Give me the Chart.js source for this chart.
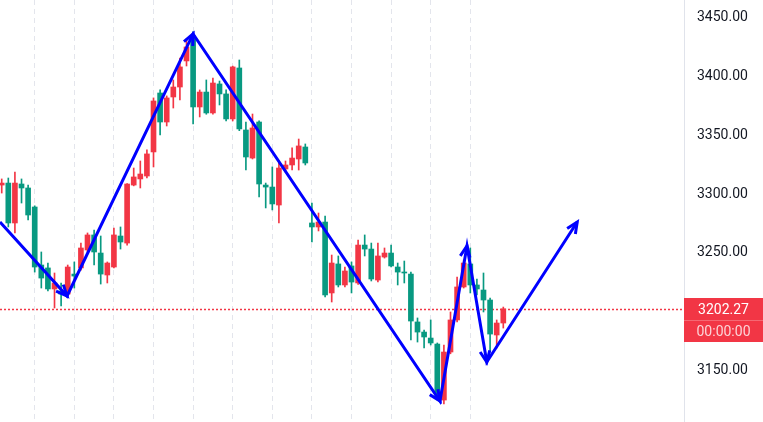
<!DOCTYPE html>
<html>
<head>
<meta charset="utf-8">
<script src="https://cdn.jsdelivr.net/npm/chart.js@4.4.1/dist/chart.umd.min.js"></script>
<style>
html, body { margin: 0; padding: 0; background: #ffffff; }
</style>
</head>
<body>
<canvas id="chart" width="763" height="422"></canvas>
<script>
// Velas (una por periodo)
const opens = [
  3307.7, 3309.4, 3275.4, 3308.6, 3305.2, 3289.0, 3239.6, 3237.1, 3219.2, 3217.5,
  3214.9, 3231.9, 3237.1, 3252.4, 3265.2, 3249.8, 3231.1, 3237.9, 3264.3, 3258.3,
  3307.7, 3312.9, 3315.4, 3335.9, 3386.1, 3361.4, 3382.7, 3391.2, 3413.4, 3434.7,
  3374.2, 3386.9, 3369.1, 3393.8, 3385.3, 3364.0, 3407.4, 3354.6, 3330.7, 3361.4,
  3307.7, 3306.0, 3290.7, 3321.4, 3324.8, 3329.9, 3340.1, 3275.4, 3272.0, 3276.2,
  3215.8, 3240.5, 3222.6, 3238.8, 3224.3, 3256.6, 3253.2, 3226.8, 3246.4, 3249.8,
  3237.9, 3233.6, 3231.9, 3191.1, 3182.5, 3177.4, 3172.3, 3124.6, 3165.5, 3192.8,
  3220.9, 3240.5, 3222.6, 3218.3, 3209.8, 3180.0, 3190.2
];
const highs = [
  3312.9, 3313.7, 3318.8, 3312.9, 3307.7, 3290.0, 3250.7, 3241.3, 3232.8, 3224.3,
  3239.6, 3242.2, 3258.3, 3266.9, 3269.4, 3264.3, 3242.2, 3271.1, 3272.0, 3309.0,
  3322.2, 3328.2, 3337.6, 3381.9, 3388.7, 3383.6, 3397.2, 3415.9, 3432.1, 3438.1,
  3388.7, 3397.2, 3398.9, 3396.3, 3388.7, 3409.0, 3414.2, 3361.4, 3368.2, 3362.3,
  3309.4, 3323.1, 3327.3, 3328.2, 3339.3, 3346.9, 3342.7, 3292.4, 3283.9, 3281.3,
  3248.1, 3247.3, 3237.9, 3242.2, 3260.9, 3265.2, 3258.3, 3258.3, 3254.1, 3256.6,
  3241.3, 3243.0, 3233.6, 3194.5, 3184.2, 3192.8, 3173.2, 3171.5, 3199.6, 3229.4,
  3243.9, 3254.1, 3227.7, 3232.8, 3211.5, 3192.8, 3203.8
];
const lows = [
  3300.9, 3272.0, 3266.9, 3292.4, 3277.9, 3233.6, 3220.0, 3217.5, 3203.0, 3204.7,
  3214.1, 3220.0, 3235.3, 3250.7, 3239.6, 3223.4, 3224.3, 3237.1, 3253.2, 3256.6,
  3307.0, 3305.2, 3313.7, 3323.1, 3350.3, 3358.0, 3373.3, 3380.1, 3409.1, 3359.7,
  3365.7, 3368.0, 3368.0, 3375.9, 3362.3, 3362.3, 3354.0, 3320.5, 3329.9, 3297.5,
  3288.2, 3286.5, 3275.4, 3318.8, 3320.5, 3320.5, 3324.8, 3259.2, 3268.6, 3212.4,
  3208.1, 3220.9, 3220.9, 3215.8, 3223.0, 3247.3, 3226.0, 3225.1, 3245.5, 3237.9,
  3222.6, 3224.3, 3175.7, 3174.0, 3168.9, 3171.5, 3124.6, 3121.2, 3164.0, 3191.1,
  3220.0, 3215.8, 3214.1, 3199.6, 3165.5, 3168.9, 3185.9
];
const closes = [
  3309.4, 3275.4, 3309.4, 3305.2, 3282.2, 3237.9, 3228.5, 3219.2, 3224.3, 3214.9,
  3237.9, 3230.2, 3254.1, 3265.2, 3250.7, 3231.9, 3241.3, 3265.2, 3259.2, 3308.6,
  3314.6, 3317.1, 3334.2, 3379.3, 3361.4, 3381.9, 3391.2, 3408.3, 3425.3, 3374.2,
  3386.9, 3369.1, 3394.6, 3385.3, 3364.0, 3408.3, 3355.5, 3331.6, 3356.3, 3308.6,
  3306.0, 3291.6, 3322.2, 3324.8, 3330.7, 3341.0, 3326.5, 3272.0, 3276.2, 3214.1,
  3241.3, 3222.6, 3234.5, 3225.1, 3256.6, 3253.2, 3227.7, 3247.3, 3249.8, 3238.8,
  3233.6, 3232.8, 3191.9, 3182.5, 3178.3, 3173.2, 3126.3, 3165.5, 3192.8, 3220.9,
  3241.3, 3222.6, 3219.2, 3209.8, 3180.8, 3190.2, 3202.27
];

// Flechas azules dibujadas encima (indice de vela, precio)
const arrowX = [-0.26, 9.9, 29.0, 66.4, 70.5, 73.5, 87.2];
const arrowY = [3276.2, 3213.2, 3436.4, 3123.8, 3255.8, 3157.0, 3276.2];

// Etiquetas del eje de precios y lineas verticales de la cuadricula
const priceTicks = [3150, 3200, 3250, 3300, 3350, 3400, 3450];
const gridIdx = [5, 11, 17, 23, 29, 35, 41, 47, 53, 59, 65, 71];
const lastTime = '00:00:00';

const UP = '#F23645';
const DOWN = '#089981';

const idx = closes.map((c, i) => i);
const colores = idx.map(i => closes[i] >= opens[i] ? UP : DOWN);

// Linea punteada del ultimo precio y su etiqueta
const precioActual = {
    id: 'precioActual',
    beforeDatasetsDraw(chart) {
        const { ctx, chartArea, scales } = chart;
        const y = Math.round(scales.y.getPixelForValue(closes[closes.length - 1])) + 0.5;
        ctx.save();
        ctx.strokeStyle = UP;
        ctx.lineWidth = 1.5;
        ctx.setLineDash([2, 2]);
        ctx.beginPath();
        ctx.moveTo(chartArea.left, y);
        ctx.lineTo(chartArea.right, y);
        ctx.stroke();
        ctx.restore();
    },
    afterDraw(chart) {
        const { ctx, chartArea, scales } = chart;
        const last = closes[closes.length - 1];
        const y = Math.round(scales.y.getPixelForValue(last));
        const x0 = chartArea.right;
        const w = chart.width - x0;
        ctx.save();
        ctx.fillStyle = UP;
        ctx.fillRect(x0, y - 11, w, 44);
        ctx.fillStyle = 'rgba(255,255,255,0.25)';
        ctx.fillRect(x0, y + 11, w, 1);
        ctx.font = '14px Roboto';
        ctx.textAlign = 'center';
        ctx.textBaseline = 'middle';
        ctx.fillStyle = '#ffffff';
        ctx.fillText(last.toFixed(2), x0 + w / 2, y + 1);
        ctx.fillStyle = 'rgba(255,255,255,0.78)';
        ctx.fillText(lastTime, x0 + w / 2, y + 23);
        ctx.restore();
    }
};

// Puntas de flecha al final de cada tramo
const puntas = {
    id: 'puntas',
    afterDatasetsDraw(chart) {
        const meta = chart.getDatasetMeta(0);
        const pts = meta.data;
        const ctx = chart.ctx;
        ctx.save();
        ctx.strokeStyle = '#0000FF';
        ctx.lineWidth = 3;
        ctx.lineJoin = 'miter';
        for (let i = 1; i < pts.length; i++) {
            const a = pts[i - 1], b = pts[i];
            const ang = Math.atan2(b.y - a.y, b.x - a.x);
            const L = 12;
            ctx.beginPath();
            ctx.moveTo(b.x - L * Math.cos(ang - 0.42), b.y - L * Math.sin(ang - 0.42));
            ctx.lineTo(b.x, b.y);
            ctx.lineTo(b.x - L * Math.cos(ang + 0.42), b.y - L * Math.sin(ang + 0.42));
            ctx.stroke();
        }
        ctx.restore();
    }
};

function crearGrafico() {
    const ctx = document.getElementById('chart').getContext('2d');
    new Chart(ctx, {
        type: 'bar',
        data: {
            datasets: [
                {
                    type: 'line',
                    data: arrowX.map((x, i) => ({ x: x, y: arrowY[i] })),
                    borderColor: '#0000FF',
                    borderWidth: 3,
                    pointRadius: 0,
                    tension: 0,
                    fill: false,
                    order: 0
                },
                {
                    // cuerpos
                    data: idx.map(i => ({ x: i, y: [opens[i], closes[i]] })),
                    backgroundColor: colores,
                    barThickness: 5,
                    minBarLength: 1,
                    grouped: false,
                    order: 1
                },
                {
                    // mechas
                    data: idx.map(i => ({ x: i, y: [lows[i], highs[i]] })),
                    backgroundColor: colores,
                    barThickness: 1,
                    grouped: false,
                    order: 2
                }
            ]
        },
        options: {
            responsive: false,
            animation: false,
            devicePixelRatio: 1,
            events: [],
            layout: { padding: 0, autoPadding: false },
            plugins: {
                legend: { display: false },
                tooltip: { enabled: false }
            },
            scales: {
                x: {
                    type: 'linear',
                    offset: false,
                    min: -0.26,
                    max: 103.38,
                    ticks: { display: false },
                    grid: { color: '#E3E5EC', drawTicks: false, offset: false },
                    border: { display: false, dash: [5, 4] },
                    afterBuildTicks(s) { s.ticks = gridIdx.map(v => ({ value: v })); },
                    afterFit(s) { s.height = 0; }
                },
                y: {
                    position: 'right',
                    min: 3105.9,
                    max: 3465.3,
                    grid: { display: false, drawTicks: false },
                    border: { display: true, color: '#E0E3EB' },
                    ticks: {
                        color: '#131722',
                        font: { family: 'Roboto', size: 14 },
                        padding: 13,
                        crossAlign: 'near',
                        callback: v => Number(v).toFixed(2)
                    },
                    afterBuildTicks(s) { s.ticks = priceTicks.map(v => ({ value: v })); },
                    afterFit(s) {
                        s.width = 79;
                        s.paddingTop = 0;
                        s.paddingBottom = 0;
                    }
                }
            }
        },
        plugins: [precioActual, puntas]
    });
}

crearGrafico();
</script>
</body>
</html>
